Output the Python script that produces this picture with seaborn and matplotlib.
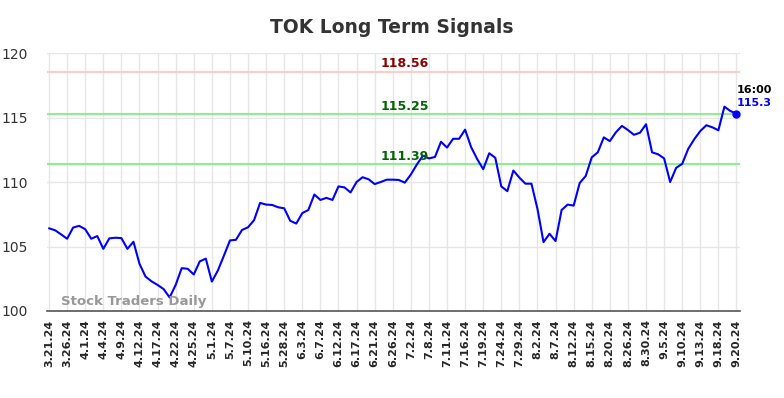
import pandas as pd
import numpy as np
import matplotlib.pyplot as plt
import seaborn as sns

# --- DATA ---
prices = [
    106.41, 106.26, 105.94, 105.60, 106.47, 106.60, 106.34, 105.60, 105.81, 104.82,
    105.63, 105.68, 105.65, 104.82, 105.37, 103.66, 102.67, 102.30, 102.02, 101.70,
    101.05, 102.02, 103.32, 103.27, 102.83, 103.85, 104.06, 102.28, 103.14, 104.29,
    105.47, 105.52, 106.28, 106.49, 107.04, 108.38, 108.25, 108.22, 108.04, 107.96,
    106.99, 106.78, 107.59, 107.83, 109.03, 108.61, 108.77, 108.61, 109.66, 109.58,
    109.19, 110.00, 110.37, 110.21, 109.84, 110.00, 110.18, 110.18, 110.16, 109.95,
    110.58, 111.36, 112.04, 111.83, 111.94, 113.12, 112.67, 113.35, 113.35, 114.06,
    112.70, 111.78, 110.99, 112.23, 111.88, 109.66, 109.29, 110.89, 110.34, 109.87,
    109.87, 107.91, 105.34, 105.99, 105.42, 107.83, 108.25, 108.17, 109.92, 110.47,
    111.91, 112.30, 113.46, 113.17, 113.85, 114.35, 114.03, 113.66, 113.82, 114.48,
    112.30, 112.15, 111.83, 110.00, 111.10, 111.41, 112.57, 113.32, 113.95, 114.40,
    114.24, 114.01, 115.84, 115.50, 115.30,
]
tick_labels = [
    "3.21.24", "3.26.24", "4.1.24", "4.4.24", "4.9.24", "4.12.24", "4.17.24",
    "4.22.24", "4.25.24", "5.1.24", "5.7.24", "5.10.24", "5.16.24", "5.28.24",
    "6.3.24", "6.7.24", "6.12.24", "6.17.24", "6.21.24", "6.26.24", "7.2.24",
    "7.8.24", "7.11.24", "7.16.24", "7.19.24", "7.24.24", "7.29.24", "8.2.24",
    "8.7.24", "8.12.24", "8.15.24", "8.20.24", "8.26.24", "8.30.24", "9.5.24",
    "9.10.24", "9.13.24", "9.18.24", "9.20.24",
]
resistance = 118.56
support_levels = [115.25, 111.39]
last_time = "16:00"

df = pd.DataFrame({"idx": np.arange(len(prices)), "price": prices})

sns.set_style("whitegrid")
plt.rcParams['font.family'] = ['DejaVu Sans']

fig = plt.figure(figsize=(7.84, 3.98), dpi=100)
ax = fig.add_axes([0.060, 0.2186, 0.884, 0.6482])

sns.lineplot(data=df, x="idx", y="price", ax=ax, color="blue", linewidth=1.5)

# garis level
ax.axhline(resistance, color="#ffcccc", linewidth=1.5, zorder=1)
for lvl in support_levels:
    ax.axhline(lvl, color="#90ee90", linewidth=1.5, zorder=1)

mid = (len(prices) - 1) * 0.517
ax.text(mid, resistance + 0.1, f"{resistance:.2f}", color="#8b0000", fontsize=9,
        fontweight="bold", ha="center", va="bottom")
for lvl in support_levels:
    ax.text(mid, lvl + 0.1, f"{lvl:.2f}", color="#006400", fontsize=9,
            fontweight="bold", ha="center", va="bottom")

# titik terakhir
last_i = len(prices) - 1
ax.scatter([last_i], [prices[-1]], color="blue", s=25, zorder=5)
ax.text(last_i, prices[-1] + 1.85, last_time, color="black", fontsize=8,
        fontweight="bold", ha="left", va="center")
ax.text(last_i, prices[-1] + 0.8, f"{prices[-1]:.1f}", color="blue", fontsize=8,
        fontweight="bold", ha="left", va="center")

ax.text(2, 100.2, "Stock Traders Daily", color="#999999", fontsize=9.5,
        fontweight="bold", ha="left", va="bottom")

ax.set_xlim(-0.33, last_i + 0.6)
ax.set_ylim(100, 120)
ax.set_yticks([100, 105, 110, 115, 120])
tick_pos = [min(i * 3, last_i) for i in range(len(tick_labels))]
ax.set_xticks(tick_pos)
ax.set_xticklabels(tick_labels, rotation=90, fontsize=8, fontweight="bold")
ax.tick_params(axis="y", labelsize=10, labelcolor="#333333", length=0, pad=14)
ax.tick_params(axis="x", length=0, pad=6)
ax.set_xlabel("")
ax.set_ylabel("")

ax.grid(True, color="#e6e6e6", linewidth=1)
for side in ["left", "right", "top"]:
    ax.spines[side].set_visible(False)
ax.spines["bottom"].set_color("#555555")
ax.spines["bottom"].set_linewidth(1.2)

fig.suptitle("TOK Long Term Signals", x=0.5, y=0.955, fontsize=13.5,
             fontweight="bold", color="#333333")

fig.savefig("out.png", dpi=100)
